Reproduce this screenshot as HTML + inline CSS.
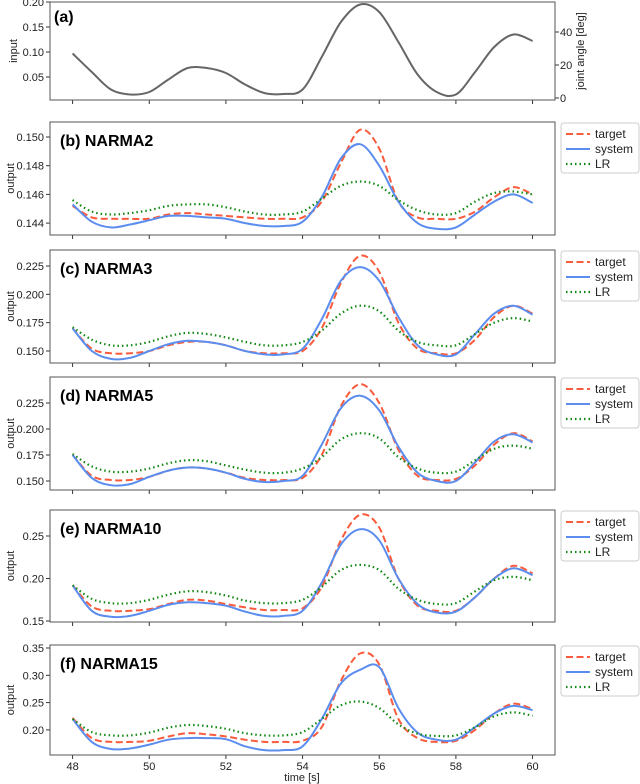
<!DOCTYPE html>
<html><head><meta charset="utf-8"><style>
body{margin:0;background:#fff;}
svg{display:block;font-family:"Liberation Sans",sans-serif;}
</style></head><body>
<svg id="fig" width="640" height="784" viewBox="0 0 640 784"></svg>
<script>
const times = [48,48.5,49,49.5,50,50.5,51,51.5,52,52.5,53,53.5,54,54.5,55,55.5,56,56.5,57,57.5,58,58.5,59,59.5,60];
const xTicks = [48,50,52,54,56,58,60];
const inputVals = [0.097,0.06,0.025,0.015,0.02,0.045,0.068,0.068,0.058,0.035,0.018,0.016,0.025,0.09,0.16,0.195,0.18,0.12,0.055,0.02,0.015,0.06,0.11,0.135,0.122];
const inputTicks = [0.05,0.10,0.15,0.20];
const angleTicks = [0,20,40];
const bTarget = [0.1452,0.1444,0.1443,0.1443,0.1443,0.1446,0.1447,0.1446,0.1445,0.1444,0.1443,0.1443,0.1444,0.1455,0.1482,0.1505,0.1492,0.1455,0.1444,0.1443,0.1443,0.1448,0.1458,0.1465,0.1460];
const bSystem = [0.1453,0.1441,0.1437,0.1439,0.1442,0.1445,0.1445,0.1444,0.1443,0.1440,0.1438,0.1438,0.1441,0.1458,0.1485,0.1495,0.1480,0.1455,0.1440,0.1436,0.1437,0.1446,0.1455,0.1460,0.1454];
const bLR = [0.1456,0.1448,0.1446,0.1447,0.1449,0.1452,0.1453,0.1453,0.1451,0.1448,0.1446,0.1446,0.1448,0.1457,0.1466,0.1469,0.1466,0.1456,0.1449,0.1446,0.1447,0.1455,0.1461,0.1462,0.1460];
const bTicks = [0.144,0.146,0.148,0.150];
const cTarget = [0.170,0.152,0.148,0.148,0.150,0.155,0.158,0.158,0.155,0.150,0.148,0.148,0.150,0.170,0.210,0.234,0.220,0.175,0.152,0.148,0.148,0.160,0.180,0.190,0.183];
const cSystem = [0.170,0.150,0.143,0.144,0.150,0.156,0.159,0.158,0.155,0.150,0.147,0.147,0.152,0.178,0.212,0.224,0.212,0.180,0.155,0.147,0.147,0.165,0.183,0.190,0.182];
const cLR = [0.171,0.160,0.155,0.155,0.158,0.163,0.166,0.165,0.162,0.158,0.155,0.155,0.158,0.168,0.183,0.190,0.185,0.168,0.158,0.155,0.155,0.165,0.175,0.179,0.176];
const cTicks = [0.150,0.175,0.200,0.225];
const dTarget = [0.175,0.155,0.151,0.151,0.154,0.160,0.163,0.162,0.158,0.153,0.151,0.151,0.153,0.175,0.222,0.243,0.225,0.180,0.155,0.151,0.152,0.165,0.185,0.196,0.188];
const dSystem = [0.175,0.153,0.146,0.147,0.154,0.160,0.163,0.162,0.158,0.152,0.149,0.150,0.155,0.185,0.220,0.232,0.218,0.183,0.158,0.150,0.150,0.168,0.188,0.195,0.187];
const dLR = [0.176,0.164,0.159,0.159,0.162,0.167,0.170,0.169,0.165,0.161,0.158,0.158,0.162,0.173,0.190,0.196,0.191,0.173,0.162,0.158,0.159,0.170,0.181,0.184,0.181];
const dTicks = [0.150,0.175,0.200,0.225];
const eTarget = [0.192,0.167,0.162,0.162,0.164,0.170,0.175,0.174,0.170,0.166,0.163,0.163,0.165,0.190,0.245,0.275,0.260,0.200,0.168,0.162,0.162,0.178,0.200,0.215,0.206];
const eSystem = [0.192,0.162,0.155,0.156,0.162,0.169,0.172,0.171,0.168,0.161,0.156,0.156,0.162,0.195,0.240,0.258,0.245,0.200,0.170,0.160,0.161,0.178,0.200,0.212,0.204];
const eLR = [0.192,0.176,0.171,0.171,0.175,0.181,0.185,0.184,0.180,0.174,0.171,0.171,0.175,0.190,0.210,0.216,0.210,0.188,0.175,0.170,0.171,0.185,0.198,0.202,0.198];
const eTicks = [0.15,0.20,0.25];
const fTarget = [0.222,0.185,0.178,0.178,0.180,0.188,0.194,0.192,0.188,0.182,0.178,0.178,0.180,0.205,0.290,0.340,0.320,0.220,0.185,0.178,0.180,0.200,0.230,0.248,0.238];
const fSystem = [0.220,0.178,0.165,0.166,0.173,0.182,0.185,0.185,0.183,0.170,0.163,0.163,0.170,0.220,0.285,0.310,0.315,0.240,0.195,0.182,0.182,0.205,0.230,0.244,0.236];
const fLR = [0.220,0.196,0.190,0.190,0.195,0.204,0.209,0.207,0.202,0.194,0.190,0.190,0.196,0.220,0.245,0.252,0.240,0.210,0.193,0.189,0.190,0.205,0.225,0.232,0.226];
const fTicks = [0.20,0.25,0.30,0.35];

const NS="http://www.w3.org/2000/svg";
const svg=document.getElementById('fig');
function mk(tag,attrs,parent){const e=document.createElementNS(NS,tag);for(const k in attrs)e.setAttribute(k,attrs[k]);(parent||svg).appendChild(e);return e;}
const X0=50,X1=555;
function xs(t){return 72.6+(t-48)*38.33;}
function smooth(pts){let d='M'+pts[0][0].toFixed(1)+','+pts[0][1].toFixed(1);
 for(let i=0;i<pts.length-1;i++){const p0=pts[Math.max(0,i-1)],p1=pts[i],p2=pts[i+1],p3=pts[Math.min(pts.length-1,i+2)];
 const c1=[p1[0]+(p2[0]-p0[0])/6,p1[1]+(p2[1]-p0[1])/6],c2=[p2[0]-(p3[0]-p1[0])/6,p2[1]-(p3[1]-p1[1])/6];
 d+=' C'+c1[0].toFixed(1)+','+c1[1].toFixed(1)+' '+c2[0].toFixed(1)+','+c2[1].toFixed(1)+' '+p2[0].toFixed(1)+','+p2[1].toFixed(1);}
 return d;}
function series(vals,ys,style,name,g){const p=mk('path',Object.assign({d:smooth(vals.map((v,i)=>[xs(times[i]),ys(v)])),fill:'none'},style),g);
 
 }
function panel(key,top,bot,refV,refY,pxPer,ticks,fmt,title,tgt,sys,lr,showX){
 const ys=v=>refY+(refV-v)*pxPer;
 const g=mk('g',{});
 
 
 ticks.forEach(v=>{const y=ys(v);mk('line',{x1:X0-4,x2:X0,y1:y,y2:y,stroke:'#333'},g);
  const t=mk('text',{x:X0-6,y:y+4,'text-anchor':'end','font-size':11,fill:'#222'},g);t.textContent=v.toFixed(fmt);
  
  });
 xTicks.forEach(tv=>{const x=xs(tv);mk('line',{x1:x,x2:x,y1:bot,y2:bot+4,stroke:'#333'},g);
  if(showX){const t=mk('text',{x:x,y:bot+15,'text-anchor':'middle','font-size':11,fill:'#222'},g);t.textContent=tv;
  
  }});
 const yl=mk('text',{transform:`translate(14,${(top+bot)/2}) rotate(-90)`,'text-anchor':'middle','font-size':11,fill:'#222'},g);yl.textContent='output';
 
 
 series(tgt,ys,{stroke:'#f95b3c','stroke-width':2,'stroke-dasharray':'7,3.5'},'target-line',g);
 series(sys,ys,{stroke:'#5b8def','stroke-width':2},'system-line',g);
 series(lr,ys,{stroke:'#118811','stroke-width':2.2,'stroke-dasharray':'1.5,3'},'lr-line',g);
 mk('rect',{x:X0,y:top,width:X1-X0,height:bot-top,fill:'none',stroke:'#555','stroke-width':1},g);
 const tt=mk('text',{x:60,y:top+24,'font-size':16,'font-weight':'bold',fill:'#000'},g);tt.textContent=title;
 
 
 const lg=mk('g',{},g);
 
 
 mk('rect',{x:561,y:top+1,width:78,height:50,rx:3,fill:'#fff',stroke:'#ccc'},lg);
 [['target',{stroke:'#f95b3c','stroke-dasharray':'7,3.5'}],['system',{stroke:'#5b8def'}],['LR',{stroke:'#118811','stroke-dasharray':'1.5,3','stroke-width':2.2}]].forEach((e,i)=>{
  const y=top+12+i*15;mk('line',Object.assign({x1:566,x2:590,y1:y,y2:y,'stroke-width':2},e[1]),lg);
  const t=mk('text',{x:595,y:y+4,'font-size':12,fill:'#222'},lg);t.textContent=e[0];
  
  });
}
// panel a
(function(){const g=mk('g',{});
 
 
 const ys=v=>2+(0.20-v)*500;
 inputTicks.forEach(v=>{const y=ys(v);mk('line',{x1:X0-4,x2:X0,y1:y,y2:y,stroke:'#333'},g);
  const t=mk('text',{x:X0-6,y:y+4,'text-anchor':'end','font-size':11,fill:'#222'},g);t.textContent=v.toFixed(2);
  
  });
 const ay=v=>98-v*1.65;
 angleTicks.forEach(v=>{const y=ay(v);mk('line',{x1:X1,x2:X1+4,y1:y,y2:y,stroke:'#333'},g);
  const t=mk('text',{x:X1+5,y:y+4,'font-size':11,fill:'#222'},g);t.textContent=v;
  
  });
 xTicks.forEach(tv=>{const x=xs(tv);mk('line',{x1:x,x2:x,y1:100,y2:104,stroke:'#333'},g);});
 series(inputVals,ys,{stroke:'#666','stroke-width':2},'input-line',g);
 mk('rect',{x:X0,y:2,width:X1-X0,height:98,fill:'none',stroke:'#555'},g);
 const yl=mk('text',{transform:'translate(17,51) rotate(-90)','text-anchor':'middle','font-size':11,fill:'#222'},g);yl.textContent='input';
 
 
 const yr=mk('text',{transform:'translate(584,51) rotate(-90)','text-anchor':'middle','font-size':11,fill:'#222'},g);yr.textContent='joint angle [deg]';
 
 
 const tt=mk('text',{x:54,y:22,'font-size':16,'font-weight':'bold',fill:'#000'},g);tt.textContent='(a)';
 
 
})();
panel('b',122,235,0.150,137,28.7/0.002,bTicks,3,'(b) NARMA2',bTarget,bSystem,bLR,false);
panel('c',250,363,0.225,266,28.33/0.025,cTicks,3,'(c) NARMA3',cTarget,cSystem,cLR,false);
panel('d',377,490,0.225,403,26/0.025,dTicks,3,'(d) NARMA5',dTarget,dSystem,dLR,false);
panel('e',510,622,0.25,536,42.5/0.05,eTicks,2,'(e) NARMA10',eTarget,eSystem,eLR,false);
panel('f',645,755,0.35,648,27.3/0.05,fTicks,2,'(f) NARMA15',fTarget,fSystem,fLR,true);
const xl=mk('text',{x:302,y:781,'text-anchor':'middle','font-size':11,fill:'#222'});xl.textContent='time [s]';


</script>
</body></html>
